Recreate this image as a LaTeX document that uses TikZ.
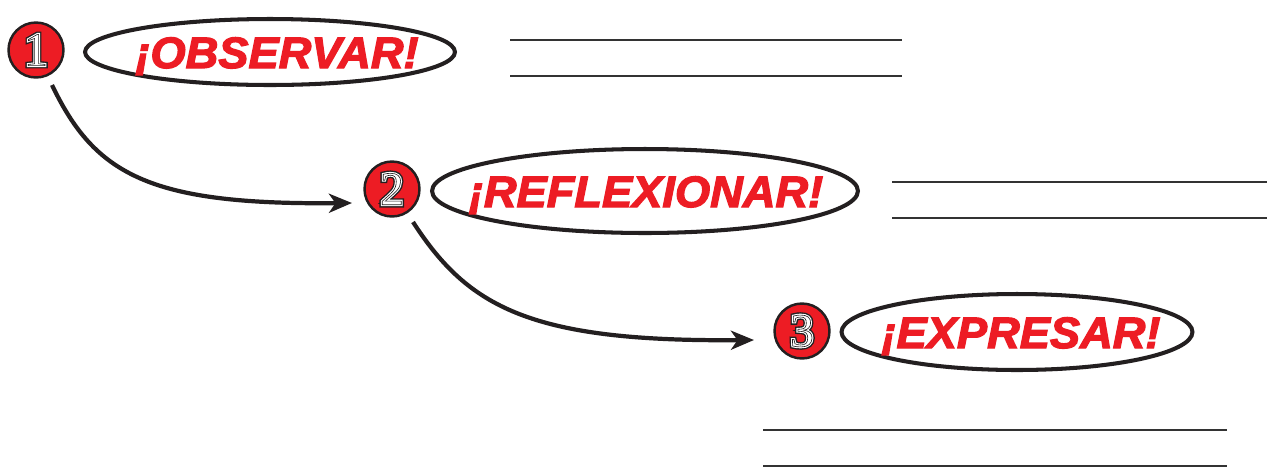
\documentclass[tikz,border=0pt]{standalone}
\usepackage{fontspec}
\setmainfont{Liberation Sans}
\newfontfamily\labfont[FakeStretch=1.03]{Liberation Sans}
\newfontfamily\digfont{Liberation Serif}
\usetikzlibrary{shapes.geometric,arrows.meta}
\definecolor{redA}{HTML}{ED1C24}
\definecolor{inkA}{HTML}{231F20}
\definecolor{lineA}{HTML}{333333}
% text render mode helpers (fill+stroke / stroke only)
\newcommand{\rmfs}[2]{\special{pdf:literal direct #1 Tr #2 w}}
\newcommand{\rmreset}{\special{pdf:literal direct 0 Tr}}
\newcommand{\bolded}[1]{\rmfs{2}{0.7}#1\rmreset}
\newcommand{\digit}[1]{%
  \makebox[0pt]{\color{inkA}\rmfs{2}{3.2}#1\rmreset}%
  \makebox[0pt]{\color{white}\rmfs{2}{1.6}#1\rmreset}%
  \makebox[0pt]{\color{inkA}\rmfs{1}{0.35}#1\rmreset}}
\tikzset{
  numcirc/.style={circle,fill=redA,draw=inkA,line width=1.4pt,minimum size=1.1cm,inner sep=0pt,
    font=\digfont\fontsize{27pt}{27pt}\selectfont},
  oval/.style={ellipse,draw=inkA,line width=2.3pt,fill=white,inner sep=0pt},
  lab/.style={text=redA,font=\labfont\bfseries\itshape\fontsize{25pt}{25pt}\selectfont,anchor=base,inner sep=0pt},
  conn/.style={draw=inkA,line width=2.4pt,-{Stealth[length=0.46cm,width=0.38cm,inset=0.13cm]}},
  writeline/.style={draw=lineA,line width=1.5pt}
}
\begin{document}
\begin{tikzpicture}[x=0.02cm,y=-0.02cm]
\useasboundingbox (0,0) rectangle (1275,468);
% number circles
\node[numcirc] (n1) at (36,50) {\digit{1}};
\node[numcirc] (n2) at (392,189) {\digit{2}};
\node[numcirc] (n3) at (802,331) {\digit{3}};
% ellipses
\node[oval,minimum width=7.4cm,minimum height=1.32cm] (e1) at (270,52) {};
\node[oval,minimum width=8.52cm,minimum height=1.68cm] (e2) at (645,191) {};
\node[oval,minimum width=7.02cm,minimum height=1.52cm] (e3) at (1017,332) {};
% labels
\node[lab] (t1) at (277,68) {\bolded{¡OBSERVAR!}};
\node[lab] (t2) at (646,207) {\bolded{¡REFLEXIONAR!}};
\node[lab] (t3) at (1021,348) {\bolded{¡EXPRESAR!}};
% connectors
\coordinate (a1s) at (52,85);
\coordinate (a1e) at (352,203);
\coordinate (a2s) at (413,222);
\coordinate (a2e) at (754,340);
\draw[conn] (a1s) .. controls (95,175) and (150,205) .. (a1e);
\draw[conn] (a2s) .. controls (468,307) and (530,342) .. (a2e);
% writing lines
\coordinate (l1a) at (510,40);  \coordinate (l1b) at (902,40);
\coordinate (l2a) at (510,76);  \coordinate (l2b) at (902,76);
\coordinate (l3a) at (892,182); \coordinate (l3b) at (1267,182);
\coordinate (l4a) at (892,218); \coordinate (l4b) at (1267,218);
\coordinate (l5a) at (763,430); \coordinate (l5b) at (1227,430);
\coordinate (l6a) at (763,466); \coordinate (l6b) at (1227,466);
\foreach \p in {1,...,6}{ \draw[writeline] (l\p a) -- (l\p b); }
\end{tikzpicture}
\end{document}
